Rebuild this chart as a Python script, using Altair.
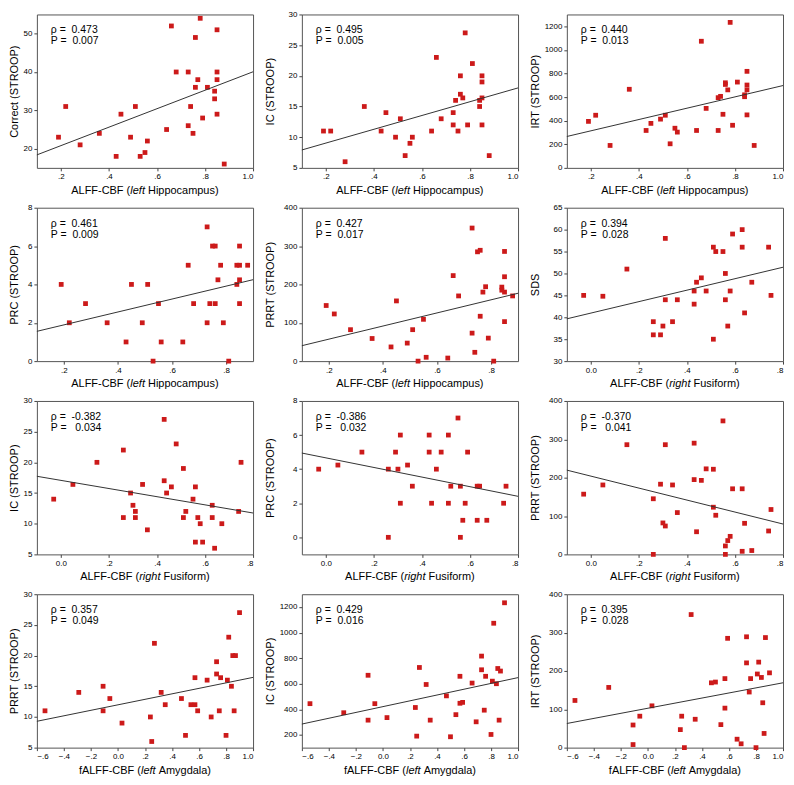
import altair as alt
import pandas as pd

# ---------------- data ----------------
hip_x = [0.19, 0.22, 0.28, 0.36, 0.43, 0.45, 0.49, 0.51, 0.53, 0.55, 0.56, 0.64, 0.66, 0.68, 0.73, 0.73,
         0.74, 0.75, 0.76, 0.76, 0.77, 0.78, 0.79, 0.81, 0.84, 0.84, 0.85, 0.85, 0.85, 0.85, 0.88]
correct_hip = [23, 31, 21, 24, 18, 29, 23, 31, 18, 19, 22, 25, 52, 40, 40, 26,
               31, 24, 49, 36, 38, 54, 28, 36, 35, 33, 51, 40, 38, 29, 16]
ic_hip = [11, 11, 6, 15, 11, 14, 10, 13, 7, 9, 10, 11, 23, 13, 14, 12,
          16, 11, 20, 17, 16.4, 27, 12, 22, 16, 15, 20, 19, 16.4, 12, 7]
irt_hip = [394, 446, 190, 666, 317, 377, 413, 446, 204, 336, 303, 317, 1073, 504, 595, 317,
           606, 454, 721, 707, 661, 1233, 361, 727, 619, 603, 818, 702, 661, 449, 190]
prc_hip = [4, 2, 3, 2, 1, 4, 2, 4, 0, 3, 1, 1, 5, 3, 7, 2,
           3, 6, 6, 3, 4.24, 5, 2, 0, 4, 5, 5, 6, 4.24, 3, 5]
prrt_hip = [145, 123, 82, 59, 37, 157, 47, 82, 0, 109, 10, 8, 223, 170, 347, 73,
            23, 285, 289, 117, 180, 194, 60, 0, 193, 185, 286, 220, 180, 103, 170]

fus_x = [-0.03, 0.05, 0.15, 0.26, 0.26, 0.29, 0.30, 0.31, 0.31, 0.34, 0.36, 0.43, 0.43, 0.44, 0.46, 0.48,
         0.51, 0.51, 0.52, 0.55, 0.56, 0.56, 0.57, 0.58, 0.59, 0.63, 0.63, 0.64, 0.67, 0.74, 0.75]
sds_fus = [45, 44.8, 51, 39, 36, 36, 38, 58, 44, 39, 44, 46, 43, 48, 49, 46,
           56, 35, 55, 55, 50, 44, 38, 46, 59, 60, 56, 41, 48, 56, 45]
ic_fus = [14, 16.4, 20, 22, 11, 15, 13, 12, 11, 16.4, 9, 27, 17, 15, 16, 23,
          19, 11, 12, 14, 16, 7, 11, 10, 7, 13, 11, 6, 10, 12, 20]
prc_fus = [4, 4.24, 5, 4, 0, 5, 4, 6, 2, 4.24, 3, 6, 5, 2, 4, 5,
           6, 2, 3, 7, 3, 0, 1, 2, 5, 3, 1, 3, 1, 2, 3]
prrt_fus = [157, 181, 286, 145, 0, 183, 82, 74, 286, 181, 109, 290, 195, 59, 193, 223,
            222, 123, 102, 348, 22, 0, 36, 47, 171, 171, 8, 81, 10, 61, 117]

amy_x = [-0.54, -0.29, -0.11, -0.11, -0.06, 0.03, 0.24, 0.25, 0.27, 0.32, 0.35, 0.47, 0.50, 0.54, 0.57, 0.57,
         0.59, 0.66, 0.69, 0.73, 0.73, 0.75, 0.76, 0.80, 0.81, 0.82, 0.84, 0.85, 0.86, 0.87, 0.90]
prrt_amy = [11, 14, 15, 11, 13, 9, 10, 6, 22, 14, 12, 13, 7, 12, 12, 16.4,
            11, 16, 10, 19, 17, 11, 16.4, 7, 16, 23, 15, 20, 11, 20, 27]
ic_amy = [444, 373, 666, 315, 444, 335, 414, 190, 727, 594, 315, 505, 185, 358, 447, 658,
          454, 605, 302, 709, 816, 393, 658, 203, 620, 1073, 600, 719, 315, 699, 1233]
irt_amy = [123, 157, 59, 8, 82, 109, 47, 82, 0, 347, 74, 169, 171, 60, 180, 103,
           285, 22, 10, 221, 289, 145, 180, 0, 192, 223, 183, 117, 37, 287, 195]

y_titles = ["Correct (STROOP)", "IC (STROOP)", "IRT (STROOP)",
            "PRC (STROOP)", "PRRT (STROOP)", "SDS",
            "IC (STROOP)", "PRC (STROOP)", "PRRT (STROOP)",
            "PRRT (STROOP)", "IC (STROOP)", "IRT (STROOP)"]
rho_vals = ["0.473", "0.495", "0.440", "0.461", "0.427", "0.394",
            "-0.382", "-0.386", "-0.370", "0.357", "0.429", "0.395"]
p_vals = ["0.007", "0.005", "0.013", "0.009", "0.017", "0.028",
          "0.034", "0.032", "0.041", "0.049", "0.016", "0.028"]

HIP = ("ALFF-CBF (", "left", "Hippocampus)")
FUS = ("ALFF-CBF (", "right", "Fusiform)")
AMY = ("fALFF-CBF (", "left", "Amygdala)")

xt_hip10 = [0.2, 0.4, 0.6, 0.8, 1.0]
xt_hip09 = [0.2, 0.4, 0.6, 0.8]
xt_fus = [0.0, 0.2, 0.4, 0.6, 0.8]
xt_amy = [-0.6, -0.4, -0.2, 0.0, 0.2, 0.4, 0.6, 0.8, 1.0]

specs = [
    (hip_x, correct_hip, [0.1, 1.0], xt_hip10, [15, 55], [20, 30, 40, 50], HIP),
    (hip_x, ic_hip, [0.1, 1.0], xt_hip10, [5, 30], [5, 10, 15, 20, 25, 30], HIP),
    (hip_x, irt_hip, [0.1, 1.0], xt_hip10, [0, 1300], [0, 200, 400, 600, 800, 1000, 1200], HIP),
    (hip_x, prc_hip, [0.1, 0.9], xt_hip09, [0, 8], [0, 2, 4, 6, 8], HIP),
    (hip_x, prrt_hip, [0.1, 0.9], xt_hip09, [0, 400], [0, 100, 200, 300, 400], HIP),
    (fus_x, sds_fus, [-0.1, 0.8], xt_fus, [30, 65], [30, 35, 40, 45, 50, 55, 60, 65], FUS),
    (fus_x, ic_fus, [-0.1, 0.8], xt_fus, [5, 30], [5, 10, 15, 20, 25, 30], FUS),
    (fus_x, prc_fus, [-0.1, 0.8], xt_fus, [-1, 8], [0, 2, 4, 6, 8], FUS),
    (fus_x, prrt_fus, [-0.1, 0.8], xt_fus, [0, 400], [0, 100, 200, 300, 400], FUS),
    (amy_x, prrt_amy, [-0.6, 1.0], xt_amy, [5, 30], [5, 10, 15, 20, 25, 30], AMY),
    (amy_x, ic_amy, [-0.6, 1.0], xt_amy, [100, 1300], [200, 400, 600, 800, 1000, 1200], AMY),
    (amy_x, irt_amy, [-0.6, 1.0], xt_amy, [0, 400], [0, 100, 200, 300, 400], AMY),
]

# ---------------- styling / layout ----------------
W, H = 217, 154
FONT = "Liberation Sans, Arial, sans-serif"
RED = "#cc1a1a"
TITLE_SIZE = 11
Y_EXTENT = [14, 23, 23]

# Arial / Liberation Sans advance widths (em) for the title pieces
CW = {"A": .667, "L": .556, "F": .611, "-": .333, "C": .722, "B": .667, " ": .278,
      "(": .333, ")": .333, "f": .278, "l": .222, "e": .556, "t": .278, "r": .333, "i": .222,
      "g": .556, "h": .556, "H": .722, "p": .556, "o": .556, "c": .5, "a": .556, "m": .833,
      "u": .556, "s": .5, "y": .5, "d": .556}


def tw(s, size):
    return sum(CW.get(ch, 0.556) for ch in s) * size


XEXPR = ("datum.value == 0 ? '0.0' : (datum.value == 1 ? '1.0' : "
         "replace(format(datum.value, '.1f'), '0.', '.'))")

ONE = pd.DataFrame({"k": [0]})


def make_panel(i, spec):
    xs, ys, xdom, xticks, ydom, yticks, region = spec
    col = i % 3
    df = pd.DataFrame({"x": xs, "y": ys})
    xaxis = alt.Axis(values=xticks, title=None, labelExpr=XEXPR, labelOverlap=False)
    yaxis = alt.Axis(values=yticks, title=y_titles[i], format="d", labelOverlap=False,
                     minExtent=Y_EXTENT[col], maxExtent=Y_EXTENT[col])
    xscale = alt.Scale(domain=xdom, nice=False, zero=False)
    yscale = alt.Scale(domain=ydom, nice=False, zero=False)
    xenc = alt.X("x:Q", scale=xscale, axis=xaxis)
    yenc = alt.Y("y:Q", scale=yscale, axis=yaxis)
    base = alt.Chart(df)
    pts = base.mark_square(size=23, color=RED, opacity=1).encode(x=xenc, y=yenc)
    fit = base.transform_regression("x", "y", extent=xdom).mark_line(
        color="#333333", strokeWidth=1).encode(x=xenc, y=yenc)

    neg = rho_vals[i].startswith("-")
    rho_txt = "\u03c1 =\u00a0\u00a0" + rho_vals[i]
    p_txt = "P =\u00a0\u00a0" + ("\u00a0" if neg else "") + p_vals[i]
    ann1 = alt.Chart(ONE).mark_text(text=rho_txt, align="left", baseline="middle",
                                    fontSize=10.5, font=FONT, color="black").encode(
        x=alt.value(14), y=alt.value(16))
    ann2 = alt.Chart(ONE).mark_text(text=p_txt, align="left", baseline="middle",
                                    fontSize=10.5, font=FONT, color="black").encode(
        x=alt.value(14), y=alt.value(27))

    pre, ital, post = region
    sp = tw(" ", TITLE_SIZE)
    w1, w2, w3 = tw(pre, TITLE_SIZE), tw(ital, TITLE_SIZE), tw(post, TITLE_SIZE)
    x0 = W / 2 - (w1 + w2 + sp + w3) / 2
    ty = H + 23
    t1 = alt.Chart(ONE).mark_text(text=pre, align="left", baseline="middle", fontSize=TITLE_SIZE,
                                  font=FONT, color="black").encode(x=alt.value(x0), y=alt.value(ty))
    t2 = alt.Chart(ONE).mark_text(text=ital, align="left", baseline="middle", fontSize=TITLE_SIZE,
                                  font=FONT, fontStyle="italic", color="black").encode(
        x=alt.value(x0 + w1), y=alt.value(ty))
    t3 = alt.Chart(ONE).mark_text(text=post, align="left", baseline="middle", fontSize=TITLE_SIZE,
                                  font=FONT, color="black").encode(
        x=alt.value(x0 + w1 + w2 + sp), y=alt.value(ty))
    return alt.layer(pts, fit, ann1, ann2, t1, t2, t3).properties(width=W, height=H)


panels = [make_panel(i, s) for i, s in enumerate(specs)]

chart = alt.concat(*panels, columns=3, spacing={"row": 6, "column": 8}).properties(
    padding={"left": 0, "right": 0, "top": 0, "bottom": 0})
chart = chart.configure_view(stroke="#555555", strokeWidth=1).configure_axis(
    grid=False, domain=False, tickSize=3, tickColor="#444444", tickWidth=1,
    labelFontSize=8, labelFont=FONT, labelColor="black", labelPadding=2, labelOverlap=False,
    titleFont=FONT, titleFontSize=TITLE_SIZE, titleFontWeight="normal", titleColor="black",
    titlePadding=3)

chart.save("out.html", embed_options={"renderer": "svg", "actions": False})
